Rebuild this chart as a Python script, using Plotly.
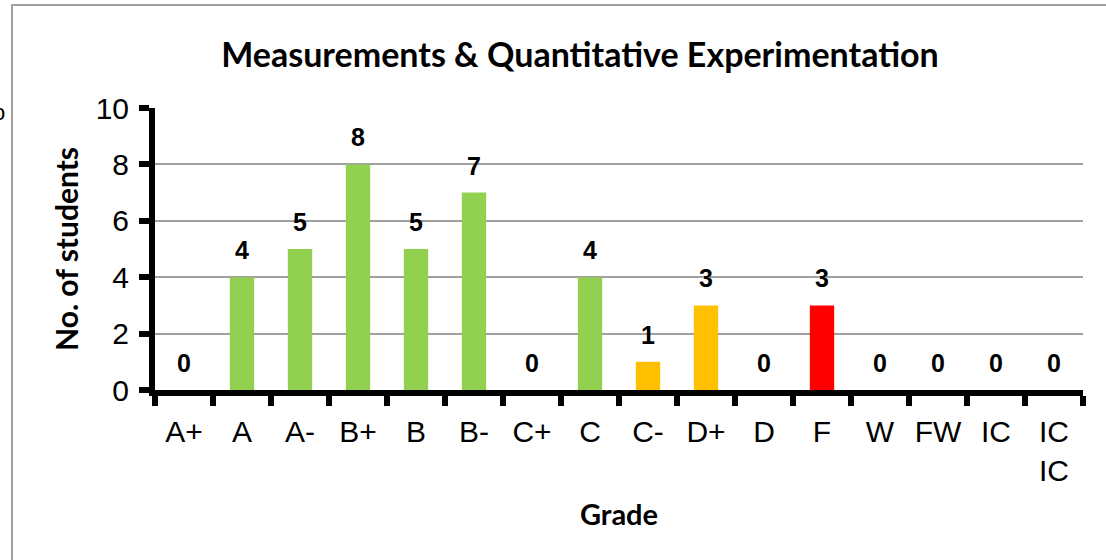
import plotly.graph_objects as go

grades = ["A+", "A", "A-", "B+", "B", "B-", "C+", "C", "C-", "D+", "D", "F", "W", "FW", "IC", "IC IC"]
tick_labels = ["A+", "A", "A-", "B+", "B", "B-", "C+", "C", "C-", "D+", "D", "F", "W", "FW", "IC", "IC<br>IC"]
students = [0, 4, 5, 8, 5, 7, 0, 4, 1, 3, 0, 3, 0, 0, 0, 0]
bar_colors = ["#92D050", "#92D050", "#92D050", "#92D050", "#92D050", "#92D050", "#92D050", "#92D050",
              "#FFC000", "#FFC000", "#FFC000", "#FF0000", "#FF0000", "#FF0000", "#FF0000", "#FF0000"]
y_ticks = [0, 2, 4, 6, 8, 10]

W, H = 1106, 560
L, R, T, B = 155, 23, 108, 170
pw, ph = W - L - R, H - T - B

def px_x(p):
    return (p - L) / pw

def px_y(p):
    return 1 - (p - T) / ph

fig = go.Figure()
fig.add_trace(go.Bar(
    x=grades, y=students, marker=dict(color=bar_colors, line=dict(width=0)),
    width=0.42, showlegend=False, hoverinfo="x+y",
))

for g, v in zip(grades, students):
    fig.add_annotation(x=g, y=v, xref="x", yref="y", text=f"<b>{v}</b>", showarrow=False,
                       yanchor="middle", yshift=27,
                       font=dict(family="Liberation Sans", size=25, color="black"))

# clipped stray glyph at the left edge
fig.add_annotation(x=px_x(7), y=px_y(112), xref="paper", yref="paper", text="o", showarrow=False,
                   xanchor="right", yanchor="middle",
                   font=dict(family="Liberation Sans", size=22, color="black"))

# chart border
fig.add_shape(type="rect", xref="paper", yref="paper",
              x0=px_x(12), y0=px_y(5), x1=px_x(W + 20), y1=px_y(H + 20),
              line=dict(color="#a0a0a0", width=2), fillcolor="rgba(0,0,0,0)", layer="below")

fig.update_layout(
    width=W, height=H,
    margin=dict(l=L, r=R, t=T, b=B, autoexpand=False),
    paper_bgcolor="white", plot_bgcolor="white",
    title=dict(text="<b>Measurements &amp; Quantitative Experimentation</b>",
               xref="container", x=580 / W, xanchor="center",
               yref="container", y=1 - 55 / H, yanchor="middle",
               font=dict(family="Lato", size=34, color="black")),
    xaxis=dict(
        type="category", categoryorder="array", categoryarray=grades,
        tickmode="array", tickvals=grades, ticktext=tick_labels, tickangle=0,
        tickson="boundaries", ticks="outside", ticklen=10, tickwidth=6, tickcolor="black",
        ticklabelstandoff=10,
        showline=True, linecolor="black", linewidth=6,
        showgrid=False,
        tickfont=dict(family="Liberation Sans", size=30, color="black"),
        title=dict(text="<b>Grade</b>", standoff=21,
                   font=dict(family="Lato", size=29, color="black")),
        automargin=False,
    ),
    yaxis=dict(
        range=[0, 10], tickmode="array", tickvals=y_ticks,
        ticks="outside", ticklen=10, tickwidth=6, tickcolor="black",
        ticklabelstandoff=4,
        showline=True, linecolor="black", linewidth=6,
        showgrid=True, gridcolor="#a0a0a0", gridwidth=2,
        zeroline=False,
        tickfont=dict(family="Liberation Sans", size=30, color="black"),
        title=dict(text="<b>No. of students</b>", standoff=10,
                   font=dict(family="Lato", size=30, color="black")),
        automargin=False,
    ),
)

fig.write_html("out.html", config={"displayModeBar": False},
               post_script="document.body.style.margin='0';")
